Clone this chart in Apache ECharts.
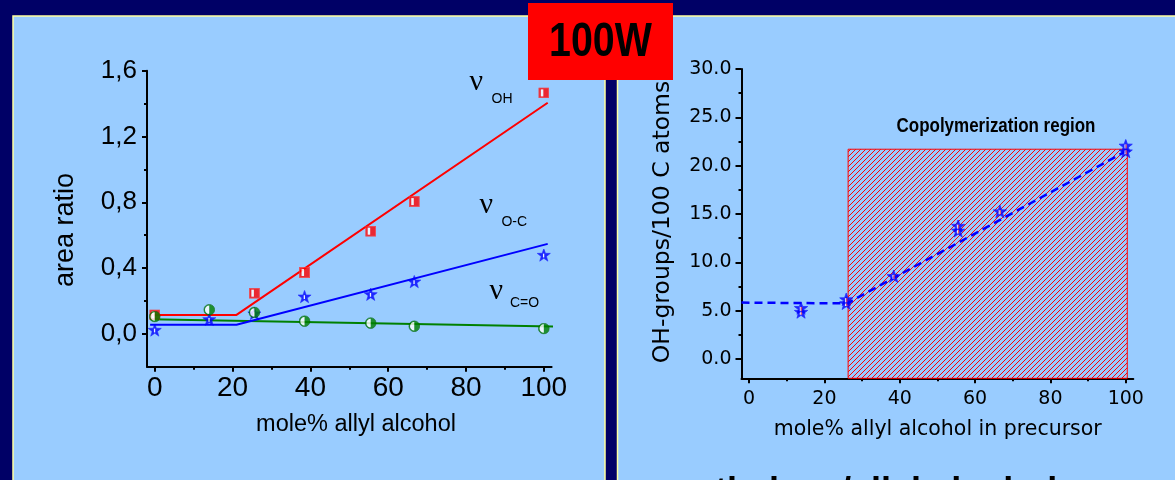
<!DOCTYPE html>
<html><head><meta charset="utf-8">
<script src="https://cdn.jsdelivr.net/npm/echarts@6/dist/echarts.min.js"></script>
<style>html,body{margin:0;padding:0;background:#000066;}#c{width:1175px;height:480px;}</style>
</head><body><div id="c"></div>
<script>
// ---- left chart data (area ratio vs mole% allyl alcohol) ----
const compositionX = [0, 14, 25.6, 38.5, 55.5, 66.7, 100];
const ratioOH = [0.115, null, 0.247, 0.373, 0.624, 0.804, 1.465];
const ratioOC = [0.02, 0.085, 0.12, 0.223, 0.237, 0.314, 0.476];
const ratioCO = [0.105, 0.146, 0.13, 0.077, 0.065, 0.046, 0.032];
const fitOHX = [-1.2, 21, 101];
const fitOHY = [0.115, 0.115, 1.405];
const fitOCX = [-1.2, 21, 101];
const fitOCY = [0.055, 0.055, 0.547];
const fitCOX = [-1.2, 104.5];
const fitCOY = [0.088, 0.044];
// ---- right chart data (OH-groups/100 C atoms) ----
const precursorX = [13.8, 13.8, 25.8, 25.8, 38.4, 55.5, 55.5, 66.6, 100, 100];
const ohGroups = [4.8, 5.2, 5.7, 6.1, 8.5, 13.2, 13.7, 15.2, 21.4, 22.0];
const trendX = [-2, 26, 100.3];
const trendY = [5.83, 5.75, 21.55];
const regionX = [26.3, 100.4];
const regionY = [-2, 21.7];
// ---- ticks ----
const xTicks = [0, 20, 40, 60, 80, 100];
const xMinorTicks = [10, 30, 50, 70, 90];
const leftYTicks = [0, 0.4, 0.8, 1.2, 1.6];
const leftYMinorTicks = [0.2, 0.6, 1.0, 1.4];
const rightYTicks = [0, 5, 10, 15, 20, 25, 30];
const rightYMinorTicks = [2.5, 7.5, 12.5, 17.5, 22.5, 27.5];

const pairs = (xs, ys) => xs.map((x, i) => [x, ys[i]]).filter(p => p[1] != null);
const svgSym = s => 'image://data:image/svg+xml;charset=utf-8,' + encodeURIComponent(s);

const squareSym = svgSym("<svg xmlns='http://www.w3.org/2000/svg' width='22' height='22'><rect x='1' y='1' width='20' height='20' fill='#ff0000' stroke='#ff3030' stroke-width='2'/><rect x='5' y='4' width='5' height='14' fill='#ffffff'/></svg>");
const circleSym = svgSym("<svg xmlns='http://www.w3.org/2000/svg' width='24' height='24'><circle cx='12' cy='12' r='10.8' fill='#008000' stroke='#006000' stroke-width='1.4'/><path d='M12,3.5 A8.5,8.5 0 0 0 12,20.5 Z' fill='#ffffff'/></svg>");
const starPts = '13,0 16.06,8.8 25.36,8.98 17.94,14.6 20.64,23.52 13,18.2 5.36,23.52 8.06,14.6 0.64,8.98 9.94,8.8';
const starSym = svgSym("<svg xmlns='http://www.w3.org/2000/svg' width='26' height='26'><polygon points='" + starPts + "' fill='#0000ff' stroke='#0000ff' stroke-width='1'/><rect x='11.4' y='9.5' width='2.4' height='7' fill='#ffffff'/></svg>");
const starSym2 = svgSym("<svg xmlns='http://www.w3.org/2000/svg' width='26' height='26'><polygon points='" + starPts + "' fill='#0000ff' stroke='#0000ff' stroke-width='1.4'/><rect x='10.6' y='9.5' width='2.2' height='7.5' fill='#ffffff'/><rect x='12.8' y='9.5' width='2.2' height='7.5' fill='#ff5050'/></svg>");

const pat = document.createElement('canvas');
pat.width = 5; pat.height = 5;
const pg = pat.getContext('2d');
pg.strokeStyle = '#ff0000'; pg.lineWidth = 1;
pg.beginPath();
pg.moveTo(-1, 6); pg.lineTo(6, -1);
pg.moveTo(-1, 1); pg.lineTo(1, -1);
pg.moveTo(4, 6); pg.lineTo(6, 4);
pg.stroke();

const black = '#000';
const sans = "'Liberation Sans', Arial, sans-serif";

function axis(gridIndex, min, max, ticks, tickLen, label, lineShow, extra) {
  return Object.assign({
    type: 'value', gridIndex, min, max,
    axisLine: { show: lineShow, onZero: false, lineStyle: { color: black, width: 2 } },
    axisTick: { show: true, inside: false, length: tickLen, customValues: ticks, lineStyle: { color: black, width: 2 } },
    axisLabel: label ? Object.assign({ customValues: ticks, color: black }, label) : { show: false },
    splitLine: { show: false }
  }, extra || {});
}

const chart = echarts.init(document.getElementById('c'));
chart.setOption({
  animation: false,
  backgroundColor: '#000066',
  grid: [
    { left: 147, top: 70.7, width: 404.6, height: 296, containLabel: false, outerBoundsMode: 'none' },
    { left: 147, top: 70.7, width: 404.6, height: 296, containLabel: false, outerBoundsMode: 'none' },
    { left: 741.5, top: 69, width: 391.8, height: 309.3, containLabel: false, outerBoundsMode: 'none' },
    { left: 741.5, top: 69, width: 391.8, height: 309.3, containLabel: false, outerBoundsMode: 'none' }
  ],
  xAxis: [
    axis(0, -2, 102, xTicks, 5, { margin: 8, fontSize: 28, fontFamily: sans }, true),
    axis(1, -2, 102, xMinorTicks, 3, null, false),
    axis(2, -2, 102, xTicks, 5, { margin: 11, fontSize: 19, fontFamily: "'DejaVu Sans', sans-serif" }, true),
    axis(3, -2, 102, xMinorTicks, 3, null, false)
  ],
  yAxis: [
    axis(0, -0.2, 1.6, leftYTicks, 5, { margin: 10, fontSize: 26, fontFamily: sans,
      formatter: v => v.toFixed(1).replace('.', ',') }, true),
    axis(1, -0.2, 1.6, leftYMinorTicks, 3, null, false),
    axis(2, -2, 30, rightYTicks, 6, { margin: 10, fontSize: 19, fontFamily: "'DejaVu Sans', sans-serif",
      formatter: v => v.toFixed(1) }, true),
    axis(3, -2, 30, rightYMinorTicks, 3, null, false)
  ],
  series: [
    { type: 'line', xAxisIndex: 0, yAxisIndex: 0, data: pairs(fitCOX, fitCOY), showSymbol: false, clip: false,
      lineStyle: { color: '#008000', width: 2 }, z: 2 },
    { type: 'line', xAxisIndex: 0, yAxisIndex: 0, data: pairs(fitOCX, fitOCY), showSymbol: false, clip: false,
      lineStyle: { color: '#0000ff', width: 2 }, z: 2 },
    { type: 'line', xAxisIndex: 0, yAxisIndex: 0, data: pairs(fitOHX, fitOHY), showSymbol: false, clip: false,
      lineStyle: { color: '#ff0000', width: 2 }, z: 2 },
    { type: 'scatter', xAxisIndex: 0, yAxisIndex: 0, data: pairs(compositionX, ratioOH), symbol: squareSym, symbolSize: 11, z: 3 },
    { type: 'scatter', xAxisIndex: 0, yAxisIndex: 0, data: pairs(compositionX, ratioOC), symbol: starSym, symbolSize: 14, z: 4 },
    { type: 'scatter', xAxisIndex: 0, yAxisIndex: 0, data: pairs(compositionX, ratioCO), symbol: circleSym, symbolSize: 12, z: 5 },
    { type: 'line', xAxisIndex: 2, yAxisIndex: 2, data: pairs(trendX, trendY), showSymbol: false, clip: false,
      lineStyle: { color: '#0000ff', width: 2.5, type: [8, 5] }, z: 3,
      markArea: { silent: true,
        itemStyle: { color: { image: pat, repeat: 'repeat' }, borderColor: '#ff0000', borderWidth: 1 },
        data: [[{ coord: [regionX[0], regionY[0]] }, { coord: [regionX[1], regionY[1]] }]] } },
    { type: 'scatter', xAxisIndex: 2, yAxisIndex: 2, data: pairs(precursorX, ohGroups), symbol: starSym2, symbolSize: 14, z: 4 }
  ],
  graphic: [
    { type: 'rect', z: -10, shape: { x: 13, y: 16, width: 592, height: 480 }, style: { fill: '#99ccff', stroke: '#ffffa0', lineWidth: 1.5 } },
    { type: 'rect', z: -10, shape: { x: 617.5, y: 16, width: 600, height: 480 }, style: { fill: '#99ccff', stroke: '#ffffa0', lineWidth: 1.5 } },
    { type: 'rect', z: 100, shape: { x: 528, y: 3, width: 145, height: 77 }, style: { fill: '#ff0000' } },
    { type: 'text', z: 101, x: 549, y: 43, scaleX: 0.82,
      style: { text: '100W', x: 0, y: 0, font: "bold 48px " + sans, fill: black, align: 'left', verticalAlign: 'middle' } },
    // left panel texts
    { type: 'text', z: 10, x: 66, y: 230, rotation: Math.PI / 2,
      style: { text: 'area ratio', x: 0, y: 0, font: "27px " + sans, fill: black, align: 'center', verticalAlign: 'middle' } },
    { type: 'text', z: 10, style: { text: 'mole% allyl alcohol', x: 356, y: 425, font: "23.5px " + sans, fill: black, align: 'center', verticalAlign: 'middle' } },
    { type: 'text', z: 10, style: { text: 'ν', x: 469.5, y: 82, font: "30px 'Liberation Serif', serif", fill: black, align: 'left', verticalAlign: 'middle' } },
    { type: 'text', z: 10, style: { text: 'OH', x: 491.5, y: 99, font: "14px " + sans, fill: black, align: 'left', verticalAlign: 'middle' } },
    { type: 'text', z: 10, style: { text: 'ν', x: 479.5, y: 205, font: "30px 'Liberation Serif', serif", fill: black, align: 'left', verticalAlign: 'middle' } },
    { type: 'text', z: 10, style: { text: 'O-C', x: 501.4, y: 222.5, font: "14px " + sans, fill: black, align: 'left', verticalAlign: 'middle' } },
    { type: 'text', z: 10, style: { text: 'ν', x: 489.5, y: 291, font: "30px 'Liberation Serif', serif", fill: black, align: 'left', verticalAlign: 'middle' } },
    { type: 'text', z: 10, style: { text: 'C=O', x: 510, y: 303, font: "14px " + sans, fill: black, align: 'left', verticalAlign: 'middle' } },
    // right panel texts
    { type: 'text', z: 10, x: 663, y: 222, rotation: Math.PI / 2,
      style: { text: 'OH-groups/100 C atoms', x: 0, y: 0, font: "23.5px 'DejaVu Sans', sans-serif", fill: black, align: 'center', verticalAlign: 'middle' } },
    { type: 'text', z: 10, style: { text: 'mole% allyl alcohol in precursor', x: 937.7, y: 430, font: "20.5px 'DejaVu Sans', sans-serif", fill: black, align: 'center', verticalAlign: 'middle' } },
    { type: 'text', z: 10, x: 996, y: 127, scaleX: 0.87,
      style: { text: 'Copolymerization region', x: 0, y: 0, font: "bold 19.5px " + sans, fill: black, align: 'center', verticalAlign: 'middle' } },
    { type: 'text', z: 10, style: { text: 'ethylene/allyl alcohol', x: 695, y: 493, font: "bold 36px " + sans, fill: black, align: 'left', verticalAlign: 'middle' } }
  ]
});
</script>
</body></html>
